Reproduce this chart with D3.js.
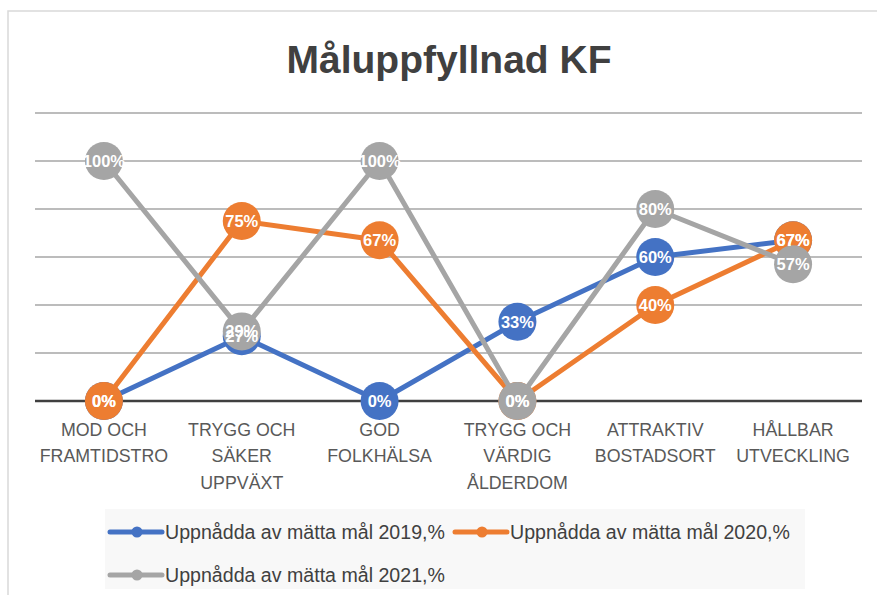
<!DOCTYPE html>
<html>
<head>
<meta charset="utf-8">
<script src="https://cdn.jsdelivr.net/npm/d3@7"></script>
<style>
  body { margin: 0; background: #fff; }
  svg { display: block; font-family: "Liberation Sans", Arial, sans-serif; }
</style>
</head>
<body>
<div id="chart"></div>
<script>
// chart data
const categories = [
  ["MOD OCH", "FRAMTIDSTRO"],
  ["TRYGG OCH", "SÄKER", "UPPVÄXT"],
  ["GOD", "FOLKHÄLSA"],
  ["TRYGG OCH", "VÄRDIG", "ÅLDERDOM"],
  ["ATTRAKTIV", "BOSTADSORT"],
  ["HÅLLBAR", "UTVECKLING"]
];
const seriesNames = [
  "Uppnådda av mätta mål 2019,%",
  "Uppnådda av mätta mål 2020,%",
  "Uppnådda av mätta mål 2021,%"
];
const values2019 = [0, 27, 0, 33, 60, 67];
const values2020 = [0, 75, 67, 0, 40, 67];
const values2021 = [100, 29, 100, 0, 80, 57];
const yTicks = [0, 20, 40, 60, 80, 100, 120];

const colors = ["#4472C4", "#ED7D31", "#A5A5A5"];
const series = [values2019, values2020, values2021].map((v, i) => ({
  name: seriesNames[i], values: v, color: colors[i]
}));

const W = 877, H = 595;
const svg = d3.select("#chart").append("svg")
  .attr("width", W).attr("height", H);

// chart frame
svg.append("rect")
  .attr("x", 8).attr("y", 11)
  .attr("width", W + 10).attr("height", H + 10)
  .attr("fill", "#fff").attr("stroke", "#d9d9d9").attr("stroke-width", 1.5);

svg.append("text")
  .attr("x", 449).attr("y", 73)
  .attr("text-anchor", "middle")
  .attr("font-size", 39).attr("font-weight", "bold")
  .attr("fill", "#404040")
  .text("Måluppfyllnad KF");

const x = d3.scaleBand().domain(d3.range(categories.length)).range([35, 862]);
const y = d3.scaleLinear().domain([0, 120]).range([401, 113]);

// gridlines
svg.append("g").selectAll("line")
  .data(yTicks.filter(t => t > 0))
  .join("line")
  .attr("x1", 35).attr("x2", 862)
  .attr("y1", d => y(d)).attr("y2", d => y(d))
  .attr("stroke", "#a6a6a6").attr("stroke-width", 1.5);

// category axis
const xAxis = svg.append("g")
  .attr("transform", `translate(0,${y(0)})`)
  .call(d3.axisBottom(x).tickSize(0).tickFormat(""));
xAxis.select(".domain").attr("stroke", "#404040").attr("stroke-width", 2.5)
  .attr("d", `M35,0H862`);

const catLabels = svg.append("g").selectAll("text")
  .data(categories)
  .join("text")
  .attr("text-anchor", "middle")
  .attr("font-size", 17.8)
  .attr("fill", "#595959")
  .attr("transform", (d, i) => `translate(${x(i) + x.bandwidth() / 2},435.5)`);
catLabels.selectAll("tspan")
  .data(d => d)
  .join("tspan")
  .attr("x", 0)
  .attr("dy", (d, i) => i === 0 ? 0 : 26.5)
  .text(d => d);

const cx = i => x(i) + x.bandwidth() / 2;
const line = d3.line().x((d, i) => cx(i)).y(d => y(d));

const sg = svg.append("g").selectAll("g")
  .data(series)
  .join("g");
sg.append("path")
  .attr("d", d => line(d.values))
  .attr("fill", "none")
  .attr("stroke", d => d.color)
  .attr("stroke-width", 5)
  .attr("stroke-linejoin", "round");
sg.selectAll("circle")
  .data(d => d.values.map(v => ({ v, color: d.color })))
  .join("circle")
  .attr("cx", (d, i) => cx(i))
  .attr("cy", d => y(d.v))
  .attr("r", 19)
  .attr("fill", d => d.color);

// data labels
svg.append("g").selectAll("g")
  .data(series)
  .join("g")
  .selectAll("text")
  .data(d => d.values)
  .join("text")
  .attr("x", (d, i) => cx(i))
  .attr("y", d => y(d) + 6)
  .attr("text-anchor", "middle")
  .attr("font-size", 16.5)
  .attr("font-weight", "bold")
  .attr("fill", "#fff")
  .text(d => d + "%");

// legend
const lg = svg.append("g");
lg.append("rect")
  .attr("x", 105).attr("y", 509)
  .attr("width", 700).attr("height", 80)
  .attr("fill", "#f8f8f8");
const legendPos = [[110, 532], [455, 532], [110, 575]];
const li = lg.selectAll("g.item")
  .data(series)
  .join("g")
  .attr("class", "item")
  .attr("transform", (d, i) => `translate(${legendPos[i][0]},${legendPos[i][1]})`);
li.append("line")
  .attr("x1", 0).attr("x2", 52)
  .attr("stroke", d => d.color).attr("stroke-width", 5)
  .attr("stroke-linecap", "round");
li.append("circle")
  .attr("cx", 27).attr("r", 5.5)
  .attr("fill", d => d.color);
li.append("text")
  .attr("x", 55).attr("y", 6.5)
  .attr("font-size", 19.6)
  .attr("fill", "#404040")
  .text(d => d.name);
</script>
</body>
</html>
